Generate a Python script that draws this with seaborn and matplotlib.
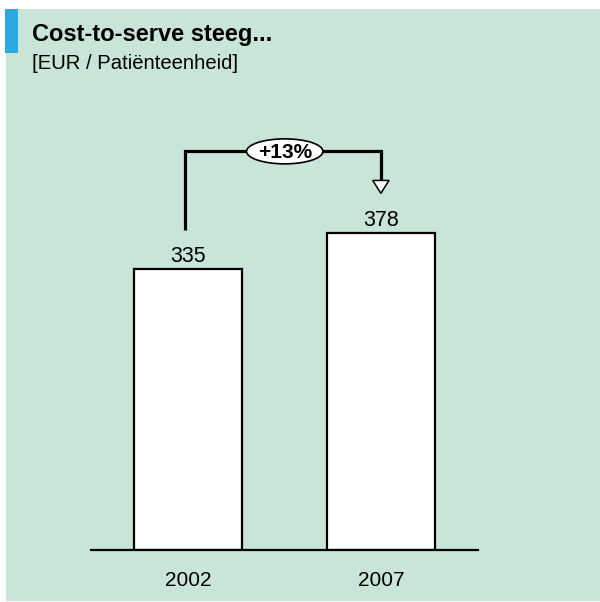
import matplotlib
matplotlib.use("Agg")
import matplotlib.pyplot as plt
from matplotlib.patches import Rectangle, Ellipse
import seaborn as sns
import pandas as pd

years = ["2002", "2007"]
costs = [335, 378]
growth_label = "+13%"
title = "Cost-to-serve steeg..."
subtitle = "[EUR / Patiënteenheid]"

sns.set_style("white")
plt.rcParams["font.family"] = ["Liberation Sans", "DejaVu Sans"]
plt.rcParams["text.color"] = "black"
plt.rcParams["xtick.color"] = "black"

BG = "#C9E5D7"
ACCENT = "#29ABE2"

fig = plt.figure(figsize=(6.0, 6.02), dpi=100)
fig.patch.set_facecolor("white")

# green card and blue accent strip
fig.add_artist(Rectangle((6 / 600, 1 / 602), 594 / 600, 592 / 602,
                         transform=fig.transFigure, facecolor=BG, edgecolor="none", zorder=0))
fig.add_artist(Rectangle((5 / 600, (602 - 53) / 602), 13 / 600, 44 / 602,
                         transform=fig.transFigure, facecolor=ACCENT, edgecolor="none", zorder=1))

fig.text(32 / 600, 1 - 41 / 602, title, fontsize=17, fontweight="bold",
         va="baseline", ha="left")
fig.text(32 / 600, 1 - 69 / 602, subtitle, fontsize=14.6, va="baseline", ha="left")

ax = fig.add_axes([91 / 600, 1 - 550 / 602, 387 / 600, 419 / 602])
ax.set_facecolor("none")

df = pd.DataFrame({"year": years, "cost": costs})
sns.barplot(data=df, x="year", y="cost", ax=ax, color="white", width=0.556,
            edgecolor="black", linewidth=1.6, saturation=1)

ax.set_xlim(-0.5, 1.5)
ax.set_ylim(0, 500)
ax.set_xlabel("")
ax.set_ylabel("")
ax.set_yticks([])
ax.tick_params(axis="x", length=0, pad=15, labelsize=15)
for side in ["left", "right", "top"]:
    ax.spines[side].set_visible(False)
ax.spines["bottom"].set_linewidth(1.6)
ax.spines["bottom"].set_color("black")

for i, v in enumerate(costs):
    ax.annotate(str(v), (i, v), xytext=(0, 5), textcoords="offset points",
                ha="center", va="baseline", fontsize=15.5)

# growth bracket from first to second bar
x0, x1 = -0.012, 0.998
y_start, y_top = 381.5, 475.7
arrow_base, arrow_tip = 441, 425.6
lw = 2.3
ax.plot([x0, x0, x1, x1], [y_start, y_top, y_top, arrow_base],
        color="black", lw=lw, solid_capstyle="butt", solid_joinstyle="miter",
        clip_on=False, zorder=3)
tri = plt.Polygon([[x1 - 0.042, arrow_base], [x1 + 0.042, arrow_base], [x1, arrow_tip]],
                  closed=True, facecolor="white", edgecolor="black", lw=1.1,
                  clip_on=False, zorder=4)
ax.add_patch(tri)
xm = (285 - 188.5) / 192.5
ax.add_patch(Ellipse((xm, y_top), width=76 / 192.5, height=25 / 0.8388,
                     facecolor="white", edgecolor="black", lw=1.2,
                     clip_on=False, zorder=5))
ax.text(xm, y_top - 1.5, growth_label, ha="center", va="center", fontsize=15,
        fontweight="bold", zorder=6)

fig.savefig("out.png", dpi=100, facecolor=fig.get_facecolor())
